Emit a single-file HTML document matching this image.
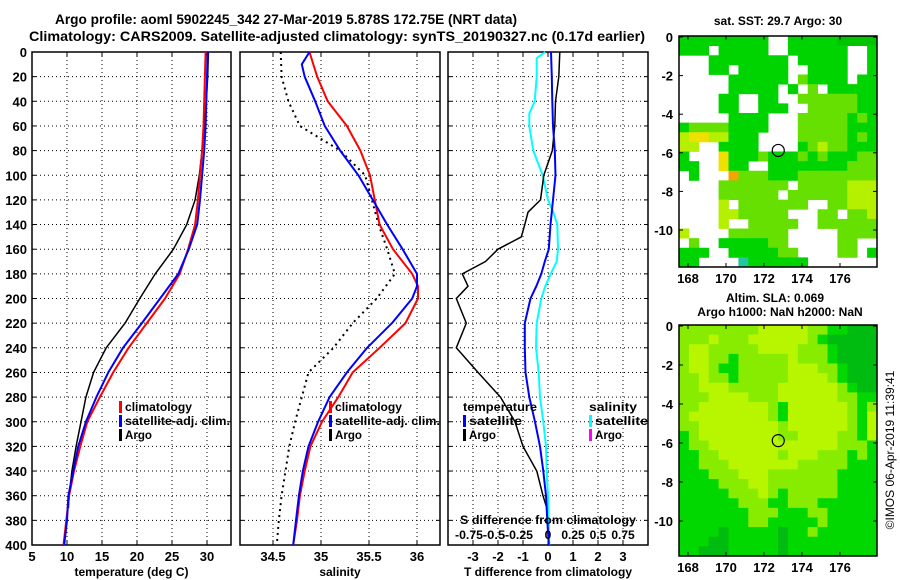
<!DOCTYPE html>
<html><head><meta charset="utf-8"><style>
html,body{margin:0;padding:0;background:#fff;}
svg{display:block;font-family:"Liberation Sans",Arial,sans-serif;font-weight:bold;}
</style></head><body>
<svg id="fig" width="900" height="580" viewBox="0 0 900 580" xmlns="http://www.w3.org/2000/svg">
<rect width="900" height="580" fill="#fff"/>
<text x="55" y="24" font-size="14" textLength="462" lengthAdjust="spacingAndGlyphs">Argo profile: aoml 5902245_342 27-Mar-2019 5.878S 172.75E (NRT data)</text>
<text x="29" y="41" font-size="14" textLength="616" lengthAdjust="spacingAndGlyphs">Climatology: CARS2009. Satellite-adjusted climatology: synTS_20190327.nc (0.17d earlier)</text>
<text x="778" y="25" font-size="12" text-anchor="middle">sat. SST: 29.7 Argo: 30</text>
<text x="775" y="302" font-size="12" text-anchor="middle">Altim. SLA: 0.069</text>
<text x="780" y="316" font-size="12" text-anchor="middle">Argo h1000: NaN h2000: NaN</text>
<text x="0" y="0" font-size="12" font-weight="normal" text-anchor="middle" transform="translate(894,450) rotate(-90)">©IMOS 06-Apr-2019 11:39:41</text>
<g id="plots"></g>
</svg>
<script>
// ---- data ----
const depths = [0,20,40,60,80,100,120,140,160,180,200,220,240,260,280,300,320,340,360,380,400];
const tempClim = [29.8,29.7,29.6,29.5,29.3,29.0,28.7,28.3,27.3,26.1,24.0,21.4,18.8,16.6,14.7,12.9,11.9,11.0,10.3,9.9,9.5];
const tempSat  = [30.1,30.0,29.9,29.8,29.6,29.3,29.0,28.6,27.4,25.9,23.3,20.7,18.0,15.9,14.2,12.7,11.6,10.9,10.2,10.0,9.6];
const argoDepths = [0,20,40,60,80,100,120,140,160,180,200,220,240,260,280,300,320,340,360,370];
const tempArgo = [30.2,30.1,29.9,29.6,29.3,28.9,28.3,27.1,25.2,22.6,20.4,18.3,15.6,13.8,12.7,12.0,11.3,10.7,10.3,10.2];
const salDepths = [0,10,20,40,60,80,100,120,140,160,180,190,200,220,240,260,280,300,320,340,360,380,400];
const salClim = [34.88,34.92,34.96,35.07,35.27,35.41,35.51,35.56,35.61,35.75,35.95,36.01,36.01,35.88,35.61,35.33,35.18,35.01,34.89,34.83,34.78,34.75,34.71];
const salSat  = [34.88,34.80,34.83,34.94,35.04,35.20,35.39,35.54,35.69,35.85,36.00,36.00,35.95,35.74,35.48,35.27,35.09,34.97,34.87,34.81,34.77,34.74,34.71];
const salArgoDepths = [0,20,40,60,80,100,120,140,160,180,200,220,240,260,280,300,320,340,360,380,400];
const salArgo = [34.58,34.59,34.66,34.78,35.20,35.46,35.53,35.60,35.69,35.77,35.58,35.33,35.13,34.87,34.80,34.73,34.67,34.63,34.59,34.56,34.54];
const tdDepths = [0,20,40,60,80,100,120,130,140,150,160,170,180,190,200,220,240,260,280,300,320,340,360,370];
const tdArgo = [0.47,0.43,0.30,0.27,0.17,-0.17,-0.30,-0.80,-0.93,-1.07,-2.0,-2.5,-3.43,-3.2,-3.67,-3.27,-3.67,-2.8,-1.9,-1.32,-1.0,-0.45,-0.2,-0.05];
const tdSatDepths = [0,20,40,60,80,100,120,140,160,170,180,190,200,220,240,260,280,300,320,340,360,380,400];
const tdSat = [0.12,0.15,0.17,0.2,0.27,0.3,0.2,0.1,0.03,-0.13,-0.27,-0.47,-0.7,-0.93,-0.93,-0.9,-0.75,-0.52,-0.32,-0.19,-0.08,-0.03,0.03];
const sdSatDepths = [0,5,20,40,50,60,80,100,120,130,140,160,170,180,190,200,220,240,260,280,300,320,340,360,400];
const sdSat = [-0.027,-0.113,-0.113,-0.133,-0.187,-0.187,-0.147,-0.053,0,0.053,0.093,0.1,0.087,0.027,-0.027,-0.067,-0.113,-0.12,-0.093,-0.08,-0.047,-0.02,-0.013,0,0.013];
const depthTicks = [0,20,40,60,80,100,120,140,160,180,200,220,240,260,280,300,320,340,360,380,400];
const tempTicks = [5,10,15,20,25,30];
const salTicks = [34.5,35,35.5,36];
const salTickLabels = ["34.5","35","35.5","36"];
const tdTicks = [-3,-2,-1,0,1,2,3];
const sdTicks = [-0.75,-0.5,-0.25,0,0.25,0.5,0.75];
const sdTickLabels = ["-0.75","-0.5","-0.25","0","0.25","0.5","0.75"];
const lonTicks = [168,170,172,174,176];
const latTicks = [0,-2,-4,-6,-8,-10];
const argoLon = 172.75, argoLat = -5.878;
const sstRows = [
"ggggggggg  gggggGGGG","ggg ggggg  gggggg  g","   gggggggg ggggg  g","   gg ggggg  gggg  g",
"     gggggg lgggg gg","     ggggg g l ggggg","    gg  gg  llllllgg","    gg  ggg  lllllgg",
"     gggg   lllllglg","gllllgggg   lllllggg","yYYyyggg    lllllglg","yy  gggg    glyllggg",
"g   Yggglggglglgggll","gg  Ygg  gggggggglll"," g   olllgggllllllll","    lllllll lllllyyy",
"    llllll llllllyyy","    y lllllll  llyyy","    yylllll   ll lly","    y  lllll  lllllll",
"y    llllll     llll"," l  gggggll     ll  ","ggg  gggggll    ll g","gg    tgggggg       "];
const slaRows = [
"llllllllyyyyyllggGGG","lllylllyyyyyylgGGGGG","lyylllllyyyylllgGGGG","lyyllglllllylllgGGGG",
"lyylgglllllyyyllgGGG","llyllglllllyyyylgGGG","llyyylllllyyyyyylgGG","lllyyyylllyyyyyyllgg",
"llyyyyyyylgyyyyyylgl","lyyyyyyyylgyyyyyylgy","llyyyyyyyylyyyyyylgy","glyyyyyyyyllyyyyllgy",
"gllyyyyyyyyyyyyylllg","ggllyyyyyylyyylllglg","gglllyyyyyyylllllggg","ggglllyyylllllllgggg",
"gggglllyylllllllgggg","ggggglllylglllllgggg","gggggglllgglllgggggg","ggggggglllgggllggggg",
"gggggggllggggglggggg","ggggGgggggGgglgggggg","gggGGgggggGggggggggg","ggGGGgggggGggggggggg"];

// ---- drawing ----
const NS="http://www.w3.org/2000/svg";
const root=document.getElementById('plots');
function mk(tag,attrs,parent){const e=document.createElementNS(NS,tag);for(const k in attrs)e.setAttribute(k,attrs[k]);(parent||root).appendChild(e);return e;}
function txt(s,x,y,size,anchor,parent){const t=mk('text',{x:x,y:y,'font-size':size,'text-anchor':anchor||'start'},parent);t.textContent=s;return t;}
const TOP=52,BOT=545;
const yD=d=>TOP+(BOT-TOP)*d/400;

function panel(name,x0,x1,xs,xTicks,xLabels,showY,xTitle){
  const g=mk('g',{});
  
  
  depthTicks.forEach(d=>{
    if(d>0&&d<400){const l=mk('line',{x1:x0,x2:x1,y1:yD(d),y2:yD(d),stroke:'#000','stroke-width':1,'stroke-dasharray':'1,3'},g);
    }
    mk('line',{x1:x0,x2:x0+4,y1:yD(d),y2:yD(d),stroke:'#000'},g);
    mk('line',{x1:x1-4,x2:x1,y1:yD(d),y2:yD(d),stroke:'#000'},g);
    if(showY){const t=txt(String(d),27,yD(d)+5,13,'end',g);}
  });
  xTicks.forEach((v,i)=>{const X=xs(v);
    if(X>x0+1&&X<x1-1){const l=mk('line',{x1:X,x2:X,y1:TOP,y2:BOT,stroke:'#000','stroke-dasharray':'1,3'},g);
    }
    mk('line',{x1:X,x2:X,y1:BOT-4,y2:BOT,stroke:'#000'},g);
    mk('line',{x1:X,x2:X,y1:TOP,y2:TOP+4,stroke:'#000'},g);
    const t=txt(xLabels[i],X,561,13,'middle',g);
  });
  const f=mk('rect',{x:x0,y:TOP,width:x1-x0,height:BOT-TOP,fill:'none',stroke:'#000','stroke-width':1.5},g);
  
  const tt=txt(xTitle,(x0+x1)/2,576,12,'middle',g);
  
  return g;
}
function line(name,ds,vs,xs,color,w,dash){
  const pts=ds.map((d,i)=>xs(vs[i]).toFixed(1)+','+yD(d).toFixed(1)).join(' ');
  const p=mk('polyline',{points:pts,fill:'none',stroke:color,'stroke-width':w,'stroke-linejoin':'round'});
  if(dash)p.setAttribute('stroke-dasharray',dash);
  
  
}
function legend(name,x,y,items){
  const g=mk('g',{});
  
  
  items.forEach((it,i)=>{
    const yy=y+i*14;
    if(it.c){const b=mk('rect',{x:x,y:yy-10,width:3,height:12,fill:it.c},g);}
    const t=txt(it.t,x+(it.c?6:0),yy,12,'start',g);
    if(it.w){t.setAttribute('textLength',it.w);t.setAttribute('lengthAdjust','spacingAndGlyphs');}
    
  });
}

// Panel 1: temperature
const xT=v=>32+(v-5)*7;
panel('temperature-panel',32,231,xT,tempTicks,tempTicks.map(String),true,'temperature (deg C)');
line('temp-argo',argoDepths,tempArgo,xT,'#000',1.5);
line('temp-climatology',depths,tempClim,xT,'#f00',2);
line('temp-satellite-adj',depths,tempSat,xT,'#00f',2);
legend('temp-legend',119,411,[{c:'#f00',t:'climatology',w:67},{c:'#00f',t:'satellite-adj. clim.',w:105},{c:'#000',t:'Argo',w:27}]);

// Panel 2: salinity
const xS=v=>273+(v-34.5)*96;
panel('salinity-panel',240,440,xS,salTicks,salTickLabels,false,'salinity');
line('sal-argo',salArgoDepths,salArgo,xS,'#000',2,'2,4');
line('sal-climatology',salDepths,salClim,xS,'#f00',2);
line('sal-satellite-adj',salDepths,salSat,xS,'#00f',2);
legend('sal-legend',329,411,[{c:'#f00',t:'climatology',w:67},{c:'#00f',t:'satellite-adj. clim.',w:105},{c:'#000',t:'Argo',w:27}]);

// Panel 3: differences
const xTD=v=>548+v*25;
const xSD=v=>548+v*100;
panel('difference-panel',448,648,xTD,tdTicks,tdTicks.map(String),false,'T difference from climatology');
line('sdiff-satellite',sdSatDepths,sdSat,xSD,'#0ff',2);
line('tdiff-argo',tdDepths,tdArgo,xTD,'#000',1.5);
line('tdiff-satellite',tdSatDepths,tdSat,xTD,'#00f',2);
legend('tdiff-legend',463,411,[{t:'temperature',w:74},{c:'#00f',t:'satellite',w:53},{c:'#000',t:'Argo',w:27}]);
legend('sdiff-legend',589,411,[{t:'salinity',w:48},{c:'#0ff',t:'satellite',w:53},{c:'#f0f',t:'Argo',w:27}]);
{const t=txt('S difference from climatology',548,524,12,'middle');t.setAttribute('textLength',176);t.setAttribute('lengthAdjust','spacingAndGlyphs');
}
sdTicks.forEach((v,i)=>{const t=txt(sdTickLabels[i],xSD(v)-(v<0?4:0),539,12,'middle');
if(v<0){t.setAttribute('textLength',sdTickLabels[i].length*5.6);t.setAttribute('lengthAdjust','spacingAndGlyphs');}
});

// Maps
const sstCol={g:'#00d400',G:'#00c400',l:'#66e000',y:'#b4f000',Y:'#f0e000',o:'#f5a500',t:'#20c8a0'};
const slaCol={g:'#00d800',G:'#00bc10',l:'#88ec00',y:'#b8f600'};
const MX0=679,MX1=877;
const xLon=l=>688+(l-168)*19;
function map(name,y0,y1,rows,cols,latScale){
  const g=mk('g',{});
  
  
  const nC=20,nR=rows.length,cw=(MX1-MX0)/nC,ch=(y1-y0)/nR;
  rows.forEach((r,ri)=>{for(let ci=0;ci<nC;ci++){const c=r[ci];if(c&&cols[c]){
    const cell=mk('rect',{x:(MX0+ci*cw).toFixed(2),y:(y0+ri*ch).toFixed(2),width:(cw+0.4).toFixed(2),height:(ch+0.4).toFixed(2),fill:cols[c]},g);
    
    }}});
  const yLat=l=>y0+1+(-l)*latScale;
  latTicks.forEach(l=>{const Y=yLat(l);
    mk('line',{x1:MX0,x2:MX0+4,y1:Y,y2:Y,stroke:'#000'},g);mk('line',{x1:MX1-4,x2:MX1,y1:Y,y2:Y,stroke:'#000'},g);
    const t=txt(String(l),673,Y+5,13,'end',g);});
  lonTicks.forEach(l=>{const X=xLon(l);
    mk('line',{x1:X,x2:X,y1:y1-4,y2:y1,stroke:'#000'},g);mk('line',{x1:X,x2:X,y1:y0,y2:y0+4,stroke:'#000'},g);
    const t=txt(String(l),X,y1+16,13,'middle',g);});
  const f=mk('rect',{x:MX0,y:y0,width:MX1-MX0,height:y1-y0,fill:'none',stroke:'#000','stroke-width':1.5},g);
  
  const c=mk('circle',{cx:xLon(argoLon),cy:yLat(argoLat),r:6,fill:'none',stroke:'#000','stroke-width':1.2},g);
  
}
map('sst-map',36,267,sstRows,sstCol,19.3);
map('sla-map',325,556,slaRows,slaCol,19.5);
</script>
</body></html>
